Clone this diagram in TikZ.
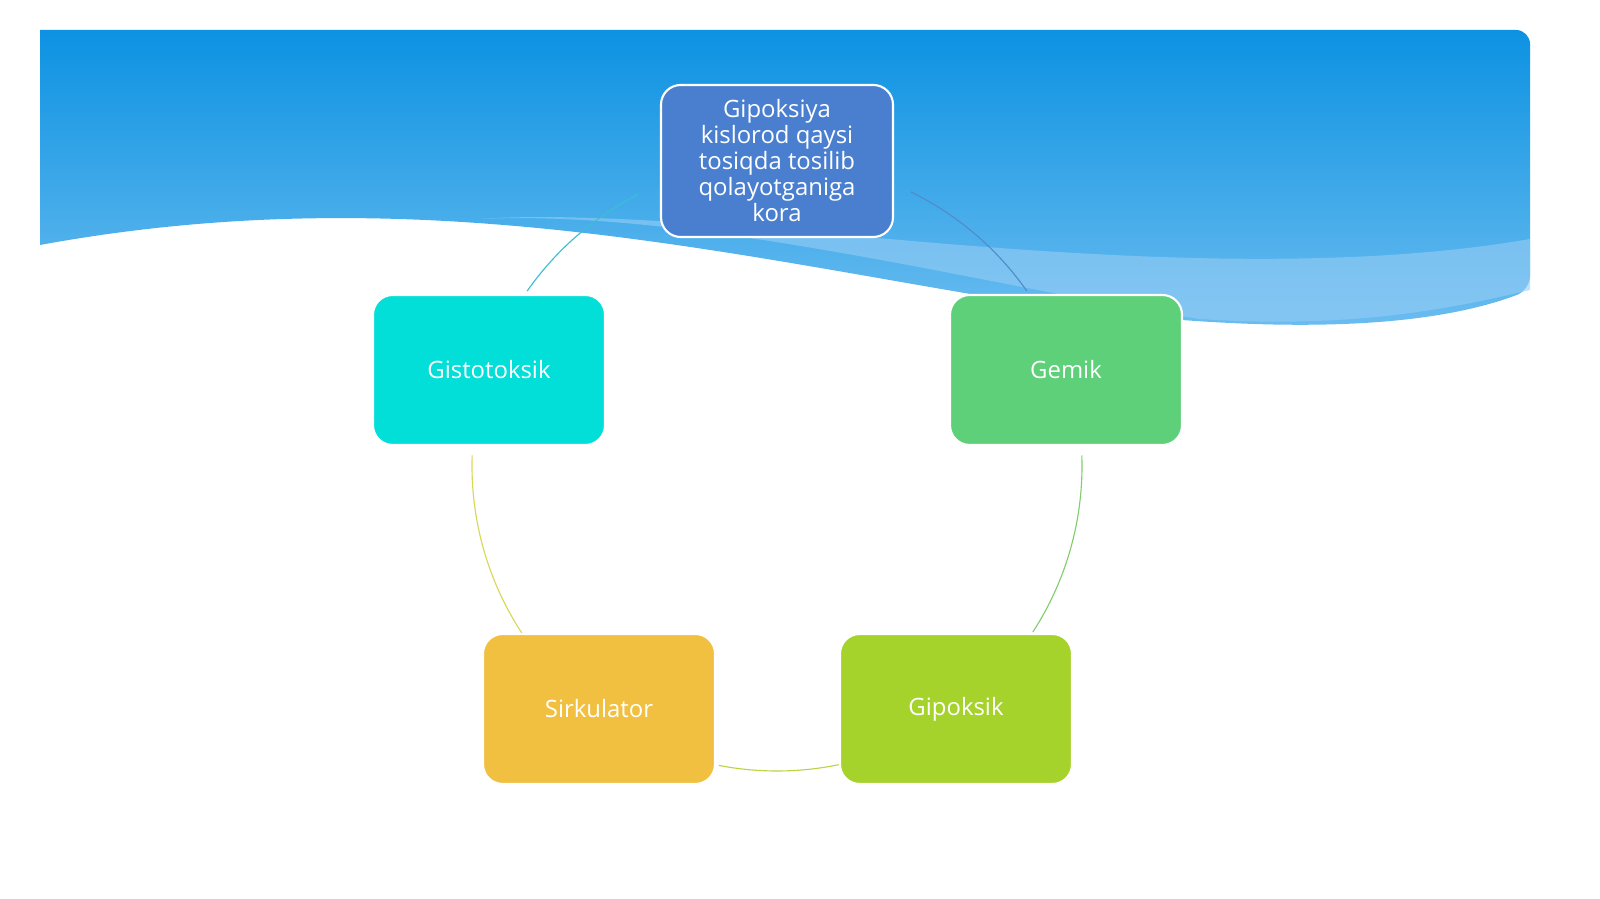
\documentclass[tikz,border=0pt]{standalone}
\usepackage{fontspec}
\setmainfont{Open Sans}
\definecolor{bandT}{RGB}{12,146,226}
\definecolor{bandB}{RGB}{110,190,240}
\definecolor{wave}{RGB}{150,205,245}
\definecolor{cTop}{RGB}{74,127,208}
\definecolor{cGis}{RGB}{2,222,216}
\definecolor{cGem}{RGB}{94,208,122}
\definecolor{cGip}{RGB}{166,210,44}
\definecolor{cSir}{RGB}{242,192,64}
\definecolor{a1}{RGB}{80,140,200}
\definecolor{a2}{RGB}{130,205,110}
\definecolor{a3}{RGB}{190,210,70}
\definecolor{a4}{RGB}{215,215,90}
\definecolor{a5}{RGB}{60,190,210}
\begin{document}
\begin{tikzpicture}[x=0.025cm,y=0.025cm,
  box/.style={rounded corners=14pt,draw=white,line width=1.5pt,minimum width=232*0.025cm,minimum height=150*0.025cm,text=white,font=\fontsize{17}{19}\selectfont,align=center,inner sep=2pt},
  arcl/.style={line width=0.8pt}]
\useasboundingbox (0,0) rectangle (1600,899);
\fill[white] (0,0) rectangle (1600,899);
\shade[top color=bandT,bottom color=bandB,rounded corners=10pt]
  (40,869) -- (1530,869) -- (1530,609) [sharp corners] .. controls (1400,560) and (1200,570) .. (1000,600)
  .. controls (700,650) and (400,720) .. (40,654) -- cycle;
\fill[wave,opacity=0.6] (480,680) .. controls (700,690) and (1000,610) .. (1200,580) .. controls (1350,570) and (1450,590) .. (1530,609) -- (1530,660) .. controls (1300,620) and (1000,650) .. (800,668) .. controls (650,680) and (550,685) .. (480,680) -- cycle;
\coordinate (c) at (777,433);
\draw[arcl,a1] ([shift={(64:305)}]c) arc[start angle=64,end angle=35,radius=305];
\draw[arcl,a2] ([shift={(2:305)}]c) arc[start angle=2,end angle=-33,radius=305];
\draw[arcl,a3] ([shift={(-78:305)}]c) arc[start angle=-78,end angle=-101,radius=305];
\draw[arcl,a4] ([shift={(214:305)}]c) arc[start angle=214,end angle=178,radius=305];
\draw[arcl,a5] ([shift={(145:305)}]c) arc[start angle=145,end angle=117,radius=305];
\node[box,fill=cTop,minimum height=152*0.025cm,font=\fontsize{17}{18.5}\selectfont] (top) at (777,738) {Gipoksiya\\kislorod qaysi\\tosiqda tosilib\\qolayotganiga\\kora};
\node[box,fill=cGis] (gis) at (489,529) {Gistotoksik};
\node[box,fill=cGem] (gem) at (1066,529) {Gemik};
\node[box,fill=cGip] (gip) at (956,190) {Gipoksik};
\node[box,fill=cSir] (sir) at (599,190) {Sirkulator};
\end{tikzpicture}
\end{document}
